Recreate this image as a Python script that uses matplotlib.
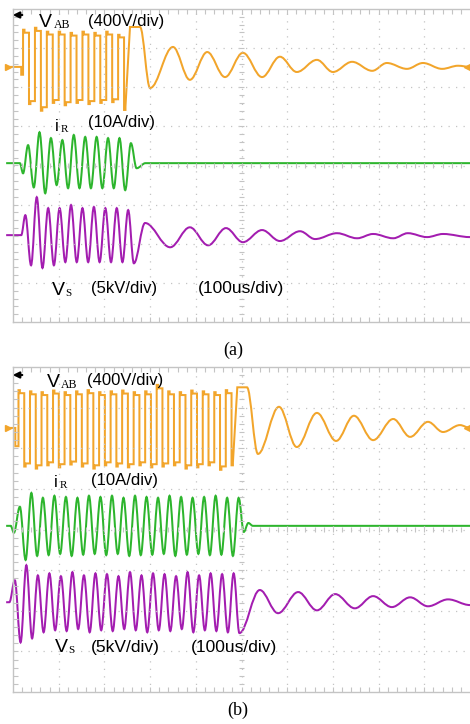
import numpy as np
import matplotlib.pyplot as plt
from matplotlib.path import Path
from matplotlib.patches import PathPatch, FancyArrowPatch

W, H = 470, 724
ORANGE = '#F2A52B'
GREEN = '#2DB52D'
PURPLE = '#A31DB0'
GRID = '#C4C4C4'

# ---- panel (a): values in divisions, relative to each trace's ground level ----
# V_AB square-wave part (one top / bottom per cycle), then the ringing
vab_a_tops = [0.95, 1.00, 0.90, 0.90, 0.87, 0.90, 0.87, 0.90, 0.82]
vab_a_bots = [-0.95, -1.12, -0.92, -0.98, -0.92, -0.95, -0.92, -0.90, -1.10]
vab_a_last = 1.02
vab_a_ring_t = [3.00, 3.50, 3.87, 4.25, 4.64, 5.03, 5.45, 5.84, 6.21, 6.65,
                7.00, 7.42, 7.86, 8.18, 8.62, 8.97, 9.39, 9.74, 10.0]
vab_a_ring_v = [-0.54, 0.51, -0.33, 0.38, -0.26, 0.36, -0.26, 0.26, -0.13, 0.18,
                -0.13, 0.13, -0.10, 0.10, -0.05, 0.10, -0.05, 0.03, 0.0]

ir_a_blip = -0.26
ir_a_tops = [0.46, 0.79, 0.64, 0.59, 0.72, 0.67, 0.67, 0.64, 0.64, 0.51]
ir_a_bots = [-0.62, -0.77, -0.56, -0.64, -0.64, -0.64, -0.64, -0.64, -0.69, -0.13]

vs_a_tops = [0.51, 0.97, 0.69, 0.69, 0.77, 0.69, 0.72, 0.69, 0.69, 0.64]
vs_a_bots = [-0.77, -0.84, -0.77, -0.69, -0.69, -0.69, -0.69, -0.69, -0.69, -0.72]
vs_a_ring_t = [2.89, 3.44, 3.87, 4.27, 4.66, 5.03, 5.45, 5.84, 6.28, 6.61,
               7.09, 7.53, 7.88, 8.32, 8.64, 9.06, 9.41, 10.0]
vs_a_ring_v = [0.31, -0.31, 0.20, -0.26, 0.18, -0.18, 0.13, -0.15, 0.10, -0.10,
               0.05, -0.08, 0.03, -0.08, 0.05, -0.05, 0.03, -0.05]

# ---- panel (b) ----
vab_b_tops = [0.93, 0.90, 0.88, 0.92, 0.88, 0.90, 0.93, 0.88, 0.90, 0.92,
              0.88, 0.90, 1.06, 0.90, 0.88, 0.92, 0.90, 0.88, 0.93]
vab_b_bots = [-0.95, -1.00, -0.92, -0.97, -0.90, -0.95, -1.00, -0.92, -0.95, -0.97,
              -0.92, -0.97, -0.95, -0.92, -1.00, -0.97, -0.92, -1.03, -0.92]
vab_b_last = 1.00
vab_b_ring_t = [5.36, 5.82, 6.21, 6.65, 7.07, 7.46, 7.88, 8.32, 8.69, 9.08, 9.41, 9.78, 10.0]
vab_b_ring_v = [-0.64, 0.52, -0.47, 0.37, -0.32, 0.30, -0.30, 0.22, -0.22, 0.15, -0.10, 0.07, 0.0]

ir_b_blip = -0.17
ir_b_tops = [0.47, 0.81, 0.69, 0.74, 0.71, 0.69, 0.74, 0.71, 0.74, 0.69,
             0.74, 0.71, 0.69, 0.74, 0.71, 0.69, 0.71, 0.74, 0.69, 0.69]
ir_b_bots = [-0.84, -0.74, -0.72, -0.69, -0.74, -0.71, -0.69, -0.72, -0.69, -0.74,
             -0.72, -0.71, -0.69, -0.74, -0.71, -0.69, -0.72, -0.71, -0.74]
ir_b_tail = [-0.15, 0.07, 0.0]

vs_b_tops = [0.54, 0.91, 0.66, 0.71, 0.64, 0.74, 0.66, 0.71, 0.69, 0.64,
             0.74, 0.66, 0.71, 0.69, 0.64, 0.74, 0.66, 0.71, 0.69, 0.71]
vs_b_bots = [-0.99, -0.89, -0.74, -0.69, -0.71, -0.66, -0.74, -0.69, -0.71, -0.66,
             -0.69, -0.74, -0.69, -0.71, -0.66, -0.74, -0.69, -0.71, -0.74, -0.76]
vs_b_ring_t = [5.40, 5.80, 6.24, 6.65, 7.05, 7.48, 7.88, 8.29, 8.69, 9.08, 9.52, 10.0]
vs_b_ring_v = [0.30, -0.27, 0.25, -0.20, 0.20, -0.15, 0.15, -0.12, 0.12, -0.10, 0.07, -0.07]


def line_to(vs, cs, t, v):
    vs.append((t, v))
    cs.append(Path.LINETO)


def curve_through(vs, cs, ts, levels, k=0.36):
    # cubic pieces with flat tangents at every peak / valley
    t0, v0 = vs[-1]
    for t1, v1 in zip(ts, levels):
        d = (t1 - t0) * k
        vs += [(t0 + d, v0), (t1 - d, v1), (t1, v1)]
        cs += [Path.CURVE4] * 3
        t0, v0 = t1, v1


def pulses(vs, cs, t0, period, tops, bots):
    t = t0
    for hi, lo in zip(tops, bots):
        for frac, lev in ((0, hi), (0.12, 0.92 * hi), (0.5, lo), (0.62, 0.92 * lo)):
            line_to(vs, cs, t + frac * period, vs[-1][1])
            line_to(vs, cs, t + frac * period, lev)
        t += period
    return t


def alternate(first, second):
    out = []
    for i in range(max(len(first), len(second))):
        if i < len(first):
            out.append(first[i])
        if i < len(second):
            out.append(second[i])
    return out


def draw(ax, vs, cs, base, color):
    verts = [(t, v + base) for t, v in vs]
    ax.add_patch(PathPatch(Path(verts, cs), fill=False, edgecolor=color,
                           lw=1.45, joinstyle='miter', clip_on=False))


def scope_grid(ax):
    ax.set_xlim(0, 10)
    ax.set_ylim(-4, 4)
    for x in range(1, 10):
        ax.axvline(x, color=GRID, lw=0.9, ls=(0, (1, 5)))
    for y in range(-3, 4):
        ax.axhline(y, color=GRID, lw=0.9, ls=(0, (1, 5)))
    xs = np.arange(0.2, 10, 0.2)
    ys = np.arange(-3.8, 4, 0.2)
    kw = dict(color=GRID, lw=0.8)
    ax.vlines(xs, -4, -3.88, **kw)
    ax.vlines(xs, 3.88, 4, **kw)
    ax.vlines(xs, -0.06, 0.06, **kw)
    ax.hlines(ys, 0, 0.1, **kw)
    ax.hlines(ys, 4.94, 5.06, **kw)
    ax.set_xticks([])
    ax.set_yticks([])
    for side in ['left', 'top', 'bottom']:
        ax.spines[side].set_color(GRID)
        ax.spines[side].set_linewidth(1.0)
    ax.spines['right'].set_visible(False)


fig = plt.figure(figsize=(W / 100, H / 100), dpi=100)
ax_a = fig.add_axes([13 / W, 1 - 322 / H, 457 / W, 313 / H])
ax_b = fig.add_axes([13 / W, 1 - 692 / H, 457 / W, 325 / H])
scope_grid(ax_a)
scope_grid(ax_b)

# panel (a) traces
vs, cs = [(-0.15, 0.0)], [Path.MOVETO]
line_to(vs, cs, 0.18, 0.0)
line_to(vs, cs, 0.18, -0.2)
t = pulses(vs, cs, 0.22, 0.26, vab_a_tops, vab_a_bots)
line_to(vs, cs, t, vab_a_last)
line_to(vs, cs, 2.78, vab_a_last)
curve_through(vs, cs, vab_a_ring_t, vab_a_ring_v)
draw(ax_a, vs, cs, 2.52, ORANGE)

vs, cs = [(-0.15, 0.0)], [Path.MOVETO]
line_to(vs, cs, 0.15, 0.0)
curve_through(vs, cs, [0.22], [ir_a_blip])
seq = alternate(ir_a_tops, ir_a_bots)
curve_through(vs, cs, [0.33 + 0.125 * i for i in range(len(seq))], seq)
curve_through(vs, cs, [2.9], [0.0])
line_to(vs, cs, 10.0, 0.0)
draw(ax_a, vs, cs, 0.06, GREEN)

vs, cs = [(-0.15, 0.0)], [Path.MOVETO]
line_to(vs, cs, 0.18, 0.0)
seq = alternate(vs_a_tops, vs_a_bots)
curve_through(vs, cs, [0.27 + 0.125 * i for i in range(len(seq))], seq)
curve_through(vs, cs, vs_a_ring_t, vs_a_ring_v)
draw(ax_a, vs, cs, -1.78, PURPLE)

# panel (b) traces
vs, cs = [(-0.15, 0.0)], [Path.MOVETO]
line_to(vs, cs, 0.05, 0.0)
line_to(vs, cs, 0.05, -0.45)
t = pulses(vs, cs, 0.12, 0.252, vab_b_tops, vab_b_bots)
line_to(vs, cs, t, vab_b_last)
line_to(vs, cs, 5.12, vab_b_last)
curve_through(vs, cs, vab_b_ring_t, vab_b_ring_v)
draw(ax_b, vs, cs, 2.50, ORANGE)

vs, cs = [(-0.15, 0.0)], [Path.MOVETO]
line_to(vs, cs, -0.05, 0.0)
curve_through(vs, cs, [0.02], [ir_b_blip])
seq = alternate(ir_b_tops, ir_b_bots)
curve_through(vs, cs, [0.15 + 0.126 * i for i in range(len(seq))], seq)
curve_through(vs, cs, [5.05, 5.15, 5.25], ir_b_tail)
line_to(vs, cs, 10.0, 0.0)
draw(ax_b, vs, cs, 0.09, GREEN)

vs, cs = [(-0.15, 0.0)], [Path.MOVETO]
line_to(vs, cs, -0.08, 0.0)
seq = alternate(vs_b_tops, vs_b_bots)
curve_through(vs, cs, [0.04 + 0.126 * i for i in range(len(seq))], seq)
curve_through(vs, cs, vs_b_ring_t, vs_b_ring_v)
draw(ax_b, vs, cs, -1.79, PURPLE)

# trigger markers
for ax, base in [(ax_a, 2.52), (ax_b, 2.50)]:
    ax.plot([9.93], [base], marker='<', color=ORANGE, ms=5, clip_on=False)
    ax.plot([-0.12], [base], marker='>', color=ORANGE, ms=4, clip_on=False)


def px(x, y):
    return x / W, 1 - y / H


SANS = 'Liberation Sans'
SERIF = 'Liberation Serif'


def label(x, y, s, size, fam=SANS):
    fig.text(*px(x, y), s, fontsize=size, family=fam, va='baseline', ha='left')


# arrows at top left
for y in [15, 375]:
    fig.add_artist(FancyArrowPatch(
        px(25, y), px(10, y), transform=fig.transFigure,
        arrowstyle='-|>', mutation_scale=9, lw=1.6, color='black'))

# panel (a) labels
label(39, 27, 'V', 14)
label(54, 28, 'AB', 8.5, SERIF)
label(88, 26, '(400V/div)', 12)
label(55, 131, 'i', 12)
label(61, 132, 'R', 8, SERIF)
label(88, 127, '(10A/div)', 12)
label(52, 295, 'V', 14)
label(65, 296, 'S', 8, SERIF)
label(91, 293, '(5kV/div)', 12)
label(198, 293, '(100us/div)', 12.5)
fig.text(*px(233, 355), '(a)', fontsize=13, family=SERIF, ha='center', va='baseline')

# panel (b) labels
label(47, 387, 'V', 14)
label(61, 388, 'AB', 8.5, SERIF)
label(87, 385, '(400V/div)', 12)
label(54, 487, 'i', 12)
label(60, 488, 'R', 8, SERIF)
label(91, 485, '(10A/div)', 12)
label(55, 652, 'V', 14)
label(68, 653, 'S', 8, SERIF)
label(91, 652, '(5kV/div)', 12.5)
label(191, 652, '(100us/div)', 12.5)
fig.text(*px(238, 715), '(b)', fontsize=13, family=SERIF, ha='center', va='baseline')

fig.savefig('out.png', dpi=100)
